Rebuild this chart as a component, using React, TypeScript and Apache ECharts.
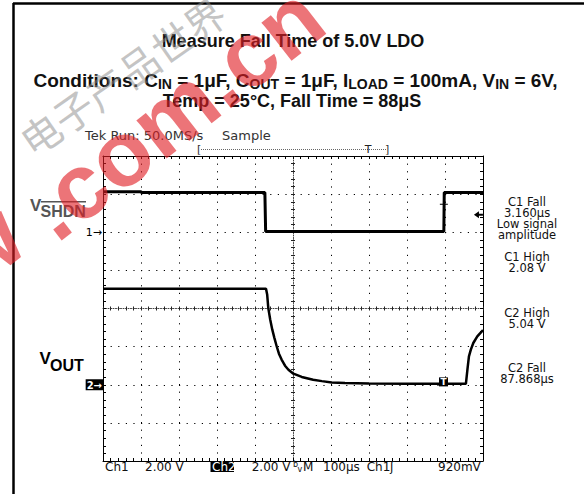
import React, { useEffect, useRef } from 'react';
import * as echarts from 'echarts';

// ---- data (time in µs relative to screen centre, volts) ----
const ch1Time = [-500, -400, -398, -74, -72, 397, 398, 500];
const ch1Volt = [2.12, 2.12, 2.08, 2.08, 0.04, 0.04, 2.08, 2.08];
const ch2Time = [-500, -71, -68, -65, -60, -54.5, -49, -43, -37, -30, -21, -12, 1, 23, 53, 76, 102, 137, 200, 300, 455, 459, 463, 468, 474.5, 485, 497, 500];
const ch2Volt = [5.04, 5.04, 4.74, 4.02, 3.42, 2.89, 2.46, 2.02, 1.63, 1.32, 1.0, 0.79, 0.58, 0.41, 0.26, 0.19, 0.12, 0.09, 0.06, 0.05, 0.05, 0.79, 1.49, 1.84, 2.19, 2.54, 2.8, 2.86];
const triggerLevel = 0.92; // V on Ch1
const cursorTime = 397;
const ch1CursorVolt = 1.47;
const ch2CursorVolt = 0.15;

const readouts = [
  ['C1 Fall', '3.160μs', 'Low signal', 'amplitude'],
  ['C1 High', '2.08 V'],
  ['C2 High', '5.04 V'],
  ['C2 Fall', '87.868μs'],
];
const statusItems = ['Ch1', '2.00 V', 'Ch2', '2.00 V', 'M', '100μs', 'Ch1', 'ʃ', '920mV'];

const SANS = "'Liberation Sans', Arial, Helvetica, sans-serif";
const TEK = "'DejaVu Sans', Verdana, sans-serif";

function txt(x: number, y: number, text: string, font: string, fill = '#000', align = 'left', extra: any = {}) {
  return {
    type: 'text', x, y, z: 10, silent: true,
    style: { text, font, fill, align, verticalAlign: 'middle', ...extra },
  };
}

const borderAxisLine = { onZero: false, lineStyle: { color: '#000', width: 1 } };
const insideTick = { inside: true, length: 3, lineStyle: { color: '#000', width: 1 } };
const minor = { show: true, splitNumber: 5, length: 3, lineStyle: { color: '#000', width: 1 } };
const dotted = { show: true, lineStyle: { color: '#000', width: 1, type: [1.2, 6.4] } };
const centreLine = { color: '#444', width: 1, type: [1, 1.5] };

export default function App() {
  const ref = useRef<HTMLDivElement>(null);
  useEffect(() => {
    if (!ref.current) return;
    const chart = echarts.init(ref.current, null, { renderer: 'svg' });
    const xBase = { type: 'value', min: -500, max: 500, interval: 100, axisLabel: { show: false } };
    const yCentre = { type: 'value', min: -4, max: 4, interval: 1, axisLabel: { show: false }, splitLine: { show: false } };

    const readoutTops = [202, 257.3, 312.7, 368.3];
    const readoutGraphics: any[] = readouts.map((lines, i) =>
      txt(527, readoutTops[i] - 5.5, lines.join('\n'), `11.5px ${TEK}`, '#111', 'center', { verticalAlign: 'top', lineHeight: 11 }),
    );
    const statusX = [105, 145, 212, 251.7, 303, 323, 366.7, 390, 438];
    const statusGraphics: any[] = [
      { type: 'rect', z: 9, silent: true, shape: { x: 210.5, y: 461.5, width: 23.5, height: 10.5 }, style: { fill: '#000' } },
    ];
    statusItems.forEach((s, i) => {
      statusGraphics.push(txt(statusX[i], 467, s, `12px ${TEK}`, i === 2 ? '#fff' : '#111'));
    });
    statusGraphics.push(txt(293, 464, 'b', `8px ${TEK}`, '#111'));
    statusGraphics.push(txt(297.5, 469, 'v', `8px ${TEK}`, '#111'));

    const wmRot = (38 * Math.PI) / 180;
    const option: any = {
      animation: false,
      grid: { left: 103, top: 156, width: 380, height: 305, show: false },
      xAxis: [
        { ...xBase, position: 'bottom', axisLine: borderAxisLine, axisTick: insideTick, minorTick: minor, splitLine: dotted },
        { ...xBase, position: 'top', axisLine: borderAxisLine, axisTick: insideTick, minorTick: minor, splitLine: { show: false } },
        { ...xBase, position: 'bottom', axisLine: { onZero: true, onZeroAxisIndex: 2, lineStyle: centreLine }, axisTick: { inside: true, length: 2, lineStyle: { color: '#222' } }, minorTick: { ...minor, length: 2, lineStyle: { color: '#222' } }, splitLine: { show: false } },
        { ...xBase, position: 'bottom', axisLine: { show: false, onZero: true, onZeroAxisIndex: 2 }, axisTick: { inside: false, length: 2, lineStyle: { color: '#222' } }, minorTick: { ...minor, length: 2, lineStyle: { color: '#222' } }, splitLine: { show: false } },
      ],
      yAxis: [
        {
          type: 'value', min: -12, max: 4, interval: 2, position: 'left', axisLine: borderAxisLine, axisTick: insideTick, minorTick: minor, splitLine: dotted,
          axisLabel: { formatter: (v: number) => (v === 0 ? '1→' : ''), margin: 1, fontSize: 11, fontFamily: TEK, color: '#000' },
        },
        {
          type: 'value', min: -4, max: 12, interval: 2, position: 'left', axisLine: { show: false, onZero: false }, axisTick: { show: false }, splitLine: { show: false },
          axisLabel: { formatter: (v: number) => (v === 0 ? '{b|2→}' : ''), margin: 0, rich: { b: { backgroundColor: '#000', color: '#fff', fontSize: 10, fontFamily: TEK, fontWeight: 'bold', padding: [1, 1, 0, 1] } } },
        },
        { ...yCentre, position: 'right', axisLine: borderAxisLine, axisTick: insideTick, minorTick: minor },
        { ...yCentre, position: 'left', axisLine: { onZero: true, onZeroAxisIndex: 0, lineStyle: centreLine }, axisTick: { inside: true, length: 2, lineStyle: { color: '#222' } }, minorTick: { ...minor, length: 2, lineStyle: { color: '#222' } } },
        { ...yCentre, position: 'left', axisLine: { show: false, onZero: true, onZeroAxisIndex: 0 }, axisTick: { inside: false, length: 2, lineStyle: { color: '#222' } }, minorTick: { ...minor, length: 2, lineStyle: { color: '#222' } } },
      ],
      series: [
        {
          type: 'line', name: 'Ch1', xAxisIndex: 0, yAxisIndex: 0, symbol: 'none', silent: true,
          data: ch1Time.map((t, i) => [t, ch1Volt[i]]),
          lineStyle: { color: '#000', width: 3 },
          markPoint: {
            silent: true, label: { show: false },
            data: [
              { coord: [cursorTime, ch1CursorVolt], symbol: 'path://M0,0 H8 M4,0 V6', symbolSize: [8, 6], symbolOffset: [0, 3], itemStyle: { color: 'transparent', borderColor: '#000', borderWidth: 1 } },
              { coord: [488, triggerLevel], symbol: 'path://M0,3.5 L5,0 L5,2.5 L9,2.5 L9,4.5 L5,4.5 L5,7 Z', symbolSize: [9, 7], itemStyle: { color: '#000' } },
            ],
          },
        },
        {
          type: 'line', name: 'Ch2', xAxisIndex: 0, yAxisIndex: 1, symbol: 'none', silent: true,
          data: ch2Time.map((t, i) => [t, ch2Volt[i]]),
          lineStyle: { color: '#000', width: 2.5 },
          markPoint: {
            silent: true,
            data: [
              { coord: [cursorTime - 1, ch2CursorVolt], symbol: 'rect', symbolSize: [9, 9], itemStyle: { color: '#000' }, label: { show: true, position: 'inside', formatter: 'T', color: '#fff', fontSize: 9, fontWeight: 'bold', fontFamily: TEK } },
            ],
          },
        },
      ],
      graphic: [
        // frame
        { type: 'line', silent: true, shape: { x1: 13, y1: 3.5, x2: 584, y2: 3.5 }, style: { stroke: '#000', lineWidth: 2.5 } },
        { type: 'line', silent: true, shape: { x1: 13.5, y1: 3, x2: 13.5, y2: 494 }, style: { stroke: '#000', lineWidth: 2.5 } },
        // titles
        txt(293, 41, 'Measure Fall Time of 5.0V LDO', `bold 18px ${SANS}`, '#111', 'center'),
        txt(295.5, 80, 'Conditions: C{s|IN} = 1μF, C{s|OUT} = 1μF, I{s|LOAD} = 100mA, V{s|IN} = 6V,', `bold 19px ${SANS}`, '#111', 'center',
          { lineHeight: 22, rich: { s: { fontSize: 14, fontWeight: 'bold', fontFamily: SANS, fill: '#111', lineHeight: 14, verticalAlign: 'bottom' } } }),
        txt(292, 101, 'Temp = 25°C, Fall Time = 88μS', `bold 18px ${SANS}`, '#111', 'center'),
        // scope header
        txt(85, 135, 'Tek Run: 50.0MS/s', `13px ${TEK}`, '#333'),
        txt(222, 135, 'Sample', `13px ${TEK}`, '#333'),
        txt(197, 149, '[', `11px ${TEK}`, '#333'),
        { type: 'line', silent: true, shape: { x1: 201, y1: 149.5, x2: 386, y2: 149.5 }, style: { stroke: '#666', lineWidth: 1, lineDash: [1, 1] } },
        txt(368, 149, 'T', `11px ${TEK}`, '#222', 'center'),
        txt(385, 149, ']', `11px ${TEK}`, '#333'),
        // channel names
        txt(30, 205, 'V', `bold 17px ${SANS}`, '#555'),
        txt(40.5, 211.7, 'SHDN', `bold 16px ${SANS}`, '#555'),
        { type: 'line', silent: true, z: 10, shape: { x1: 41, y1: 201.8, x2: 86, y2: 201.8 }, style: { stroke: '#555', lineWidth: 1.5 } },
        txt(39.5, 358.3, 'V', `bold 17px ${SANS}`, '#000'),
        txt(50, 365, 'OUT', `bold 16px ${SANS}`, '#000'),
        ...readoutGraphics,
        ...statusGraphics,
        // watermark
        { type: 'text', x: -17, y: 246, rotation: wmRot, z: 100, silent: true,
          style: { text: 'w', font: `bold 92px ${SANS}`, fill: 'rgb(224,30,37)', opacity: 0.62, align: 'center', verticalAlign: 'middle' } },
        { type: 'text', x: 174, y: 112, rotation: wmRot, z: 100, silent: true,
          style: { text: '.com.cn', font: `bold 92px ${SANS}`, fill: 'rgb(224,30,37)', opacity: 0.62, align: 'center', verticalAlign: 'middle' } },
        { type: 'text', x: 122, y: 76, rotation: (35 * Math.PI) / 180, z: 100, silent: true,
          style: { text: '电子产品世界', font: `40px 'Noto Sans CJK SC', sans-serif`, fill: '#8a8a8a', opacity: 0.5, align: 'center', verticalAlign: 'middle' } },
      ],
    };
    chart.setOption(option);
    return () => chart.dispose();
  }, []);
  return <div ref={ref} style={{ position: 'fixed', left: 0, top: 0, width: 584, height: 494, background: '#fff' }} />;
}
